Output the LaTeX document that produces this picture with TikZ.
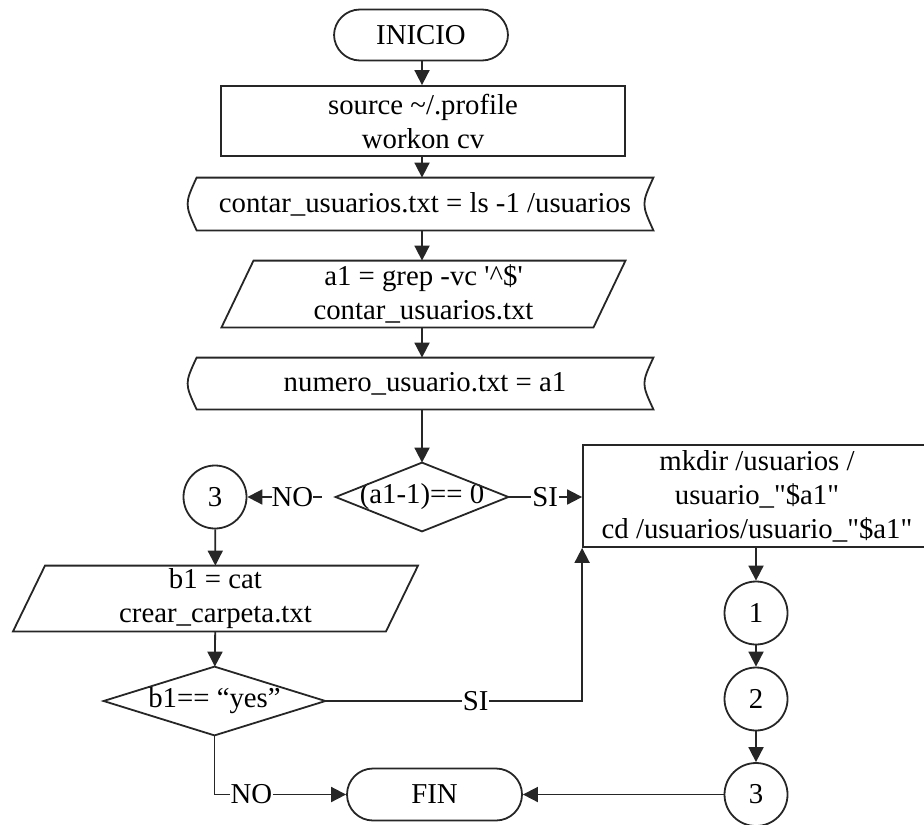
\documentclass[tikz,border=0pt]{standalone}
\usepackage{fontspec}
\setmainfont{Liberation Serif}[Ligatures=TeXOff]
\usetikzlibrary{arrows.meta,calc}

% outline of a stored-data symbol around an invisible node
\newcommand\storedoutline[1]{%
  \draw[shapeline] (#1.north west)
    .. controls ($(#1.west)+(-12,0)$) .. (#1.south west)
    -- (#1.south east)
    .. controls ($(#1.east)+(-12,0)$) .. (#1.north east) -- cycle;}
% outline of a slanted data box: #2 half width, #3 slant
\newcommand\slantoutline[3]{%
  \draw[shapeline] ($(#1.north)+(-#2+#3,0)$) -- ($(#1.north)+(#2+#3,0)$)
    -- ($(#1.south)+(#2-#3,0)$) -- ($(#1.south)+(-#2-#3,0)$) -- cycle;}
% outline of a decision symbol around an invisible node
\newcommand\decisionoutline[1]{%
  \draw[shapeline] (#1.north) -- (#1.east) -- (#1.south) -- (#1.west) -- cycle;}

\begin{document}
\begin{tikzpicture}[x=0.5pt,y=-0.5pt,
  every node/.style={font=\fontsize{14.4}{17}\selectfont, align=center, inner sep=0pt},
  shapeline/.style={draw=black!85, line width=0.9pt},
  terminal/.style={shapeline, rectangle, rounded corners=13pt, minimum height=25.5pt},
  process/.style={shapeline, rectangle},
  hidden/.style={rectangle, draw=none},
  connector/.style={shapeline, circle, minimum size=31.5pt},
  flow/.style={draw=black!85, line width=0.9pt, -{Triangle[length=7.5pt,width=7.5pt]}},
  tag/.style={fill=white, inner sep=0.5pt}]

\clip (0,0) rectangle (924,824);

% nodes of the main column
\node[terminal, minimum width=87pt] (ini) at (421,35) {INICIO};
\node[process, minimum width=202pt, minimum height=35pt] (env) at (423,121)
  {source \textasciitilde/.profile\\workon cv};
\node[hidden, minimum width=228pt, minimum height=26pt] (list) at (425,204)
  {contar\_usuarios.txt = ls -1 /usuarios};
\node[hidden, minimum width=50pt, minimum height=33pt] (count) at (423.5,294)
  {a1 = grep -vc '\textasciicircum\$'\\contar\_usuarios.txt};
\node[hidden, minimum width=228pt, minimum height=25.5pt] (save) at (425,383.5)
  {numero\_usuario.txt = a1};
\node[hidden, minimum width=86pt, minimum height=34pt] (test) at (422,497)
  {(a1-1)== 0};

% right branch
\node[process, minimum width=174pt, minimum height=51pt] (mk) at (757,496)
  {mkdir /usuarios /\\usuario\_"\$a1"\\cd /usuarios/usuario\_"\$a1"};
\node[connector] (k1) at (756,613) {1};
\node[connector] (k2) at (756,699) {2};
\node[connector] (k3r) at (756,794.5) {3};

% left branch
\node[connector] (k3l) at (215,497) {3};
\node[hidden, minimum width=50pt, minimum height=32.5pt] (read) at (215.5,598.5)
  {b1 = cat\\crear\_carpeta.txt};
\node[hidden, minimum width=110.5pt, minimum height=34pt] (ask) at (214.5,701)
  {\raisebox{1pt}{b1== “yes”}};
\node[terminal, minimum width=87.5pt, minimum height=26pt] (fin) at (434.5,794.5) {FIN};

% outlines of the drawn symbols
\storedoutline{list}
\storedoutline{save}
\slantoutline{count}{186}{16}
\slantoutline{read}{186.5}{16}
\decisionoutline{test}
\decisionoutline{ask}

% connectors
\draw[flow] (ini.south -| test.north) -- (env.north -| test.north);
\draw[flow] (env.south -| test.north) -- (list.north -| test.north);
\draw[flow] (list.south -| test.north) -- (count.north -| test.north);
\draw[flow] (count.south -| test.north) -- (save.north -| test.north);
\draw[flow] (save.south -| test.north) -- (test.north);
\draw[flow] (test.east) -- node[tag] {SI} (mk.west |- test.east);
\draw[flow, shorten <=7pt] (test.west) -- node[tag, pos=0.49, inner sep=0pt] {NO} (k3l);
\draw[flow] (k3l) -- (read);
\draw[flow] (read) -- (ask);
\draw[flow] (ask.east) -- node[tag, pos=0.585] {SI} (mk.south west |- ask.east)
  -- (mk.south west);
\draw[flow] (ask.south) |- node[tag, pos=0.64] {NO} (fin.west);
\draw[flow] (k1.north |- mk.south) -- (k1);
\draw[flow] (k1) -- (k2);
\draw[flow] (k2) -- (k3r);
\draw[flow] (k3r) -- (fin);
\end{tikzpicture}
\end{document}
